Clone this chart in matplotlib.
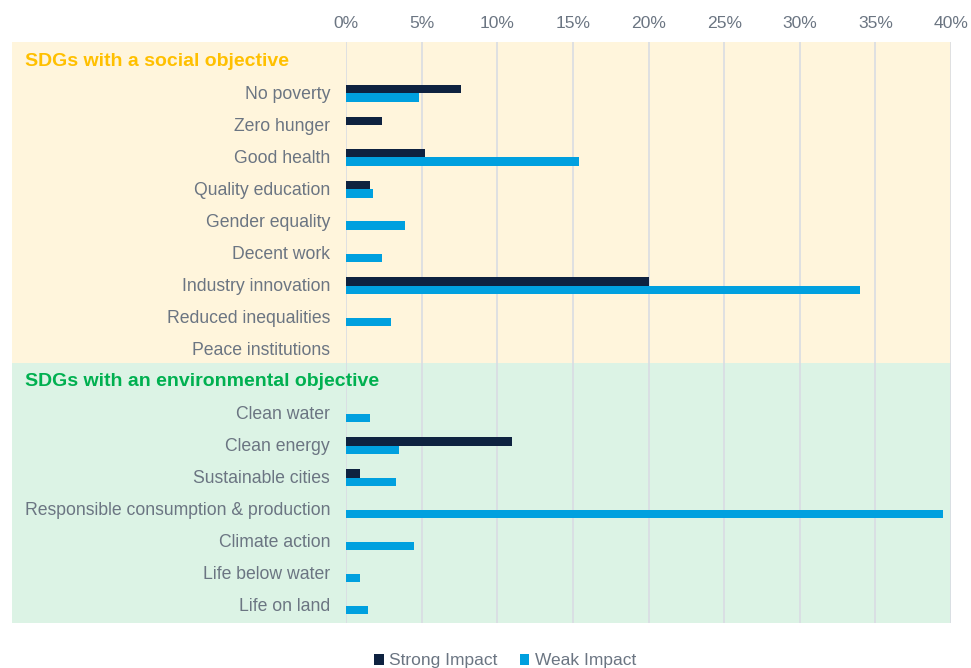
import numpy as np
import matplotlib
matplotlib.use('Agg')
import matplotlib.pyplot as plt

plt.rcParams['font.family'] = ['Liberation Sans', 'DejaVu Sans']

# %% data
social_header = "SDGs with a social objective"
env_header = "SDGs with an environmental objective"
social_labels = ["No poverty", "Zero hunger", "Good health", "Quality education",
                 "Gender equality", "Decent work", "Industry innovation",
                 "Reduced inequalities", "Peace institutions"]
social_strong = [7.6, 2.4, 5.2, 1.6, 0.0, 0.0, 20.0, 0.0, 0.0]
social_weak = [4.8, 0.0, 15.4, 1.8, 3.9, 2.4, 34.0, 3.0, 0.0]
env_labels = ["Clean water", "Clean energy", "Sustainable cities",
              "Responsible consumption & production", "Climate action",
              "Life below water", "Life on land"]
env_strong = [0.0, 11.0, 0.9, 0.0, 0.0, 0.0, 0.0]
env_weak = [1.6, 3.5, 3.3, 39.5, 4.5, 0.95, 1.45]
xticks = np.arange(0, 41, 5)

C_STRONG = '#0E2240'
C_WEAK = '#00A0DF'
C_TEXT = '#6B7582'
BG_SOCIAL = '#FFF5DC'
BG_ENV = '#DCF3E5'

# rows: header, social items, header, env items
labels = [social_header] + social_labels + [env_header] + env_labels
strong = [0.0] + social_strong + [0.0] + env_strong
weak = [0.0] + social_weak + [0.0] + env_weak
rows = np.arange(len(labels))
env_row = 1 + len(social_labels)

# %% plot
fig = plt.figure(figsize=(9.71, 6.68), dpi=100)
ax = fig.add_axes([346 / 971, 1 - 623 / 668, 605 / 971, (623 - 42) / 668])

y_top, y_bot = -0.6, len(labels) - 1 + 0.53
y_split = env_row - 0.59
x_left = (12 - 346) / 605

for y0, y1, col in [(y_top, y_split, BG_SOCIAL), (y_split, y_bot, BG_ENV)]:
    ax.axhspan(y0, y1, xmin=x_left, xmax=1, color=col, zorder=0, clip_on=False, lw=0)

h = 0.26
ax.barh(rows - h / 2, strong, height=h, color=C_STRONG, label='Strong Impact', zorder=3)
ax.barh(rows + h / 2, weak, height=h, color=C_WEAK, label='Weak Impact', zorder=3)

ax.set_xlim(0, 40)
ax.set_ylim(y_bot, y_top)
ax.set_facecolor('none')
ax.xaxis.tick_top()
ax.set_xticks(xticks)
ax.set_xticklabels([f"{v}%" for v in xticks], color=C_TEXT, fontsize=12.6)
ax.tick_params(axis='x', length=0, pad=8)
ax.grid(axis='x', color='#D9DCE3', lw=1.2, zorder=1)
ax.set_yticks([])
for s in ax.spines.values():
    s.set_visible(False)

for i, lab in enumerate(labels):
    if i == 0 or i == env_row:
        ax.text(x_left + 13 / 605, i, lab, transform=ax.get_yaxis_transform(),
                ha='left', va='center', fontsize=14, fontweight='bold',
                color='#FFC000' if i == 0 else '#00B050')
    else:
        ax.text(-16 / 605, i + 0.03, lab, transform=ax.get_yaxis_transform(),
                ha='right', va='center', fontsize=12.7, color=C_TEXT)

fig.legend(loc='center', bbox_to_anchor=(0.52, 1 - 661 / 668), ncol=2, frameon=False,
           fontsize=12.5, labelcolor=C_TEXT, handlelength=0.55, handleheight=0.55,
           handletextpad=0.3, columnspacing=1.3)

fig.savefig('out.png', dpi=100)
